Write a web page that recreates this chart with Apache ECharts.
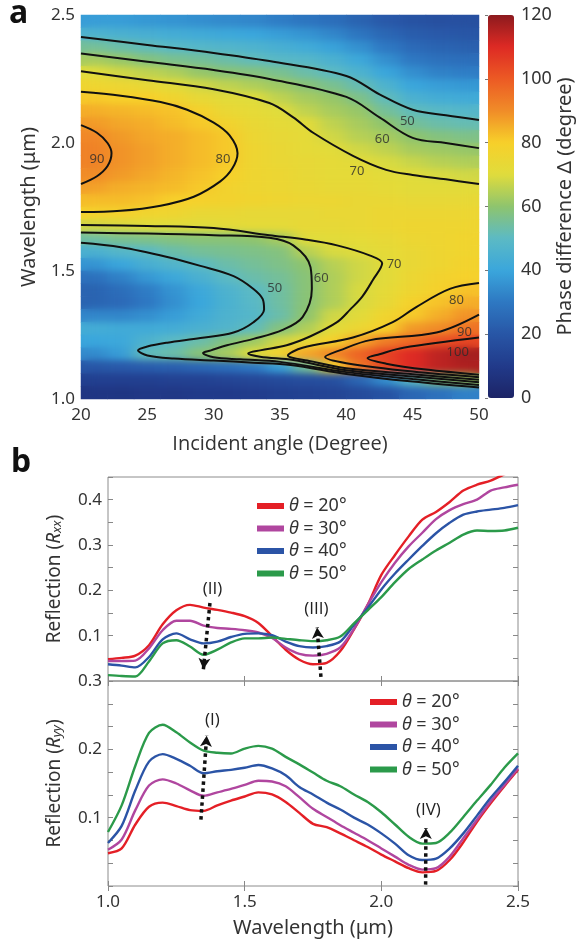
<!DOCTYPE html>
<html>
<head>
<meta charset="utf-8">
<script src="https://cdn.jsdelivr.net/npm/echarts/dist/echarts.min.js"></script>
<style>
  html, body { margin: 0; padding: 0; background: #fff; }
  #chart { width: 580px; height: 947px; }
</style>
</head>
<body>
<!-- soft shading filter for the phase map layer -->
<svg width="0" height="0" style="position:absolute;left:0;top:0">
  <defs>
    <filter id="soften" x="0" y="0" width="1" height="1" color-interpolation-filters="sRGB">
      <feGaussianBlur stdDeviation="8 3.5"/>
    </filter>
  </defs>
</svg>
<div id="chart"></div>
<script>
// ---------- Panel a: phase difference map ----------
// cell centres (incident angle, degrees) for the map columns
const angleCenters = [21, 23, 25, 27, 29, 31, 33, 35, 37, 39, 41, 43, 45, 47, 49];
// cell centres (wavelength, µm) for the map rows, top row first
const wavelengthCenters = [2.475, 2.425, 2.375, 2.325, 2.275, 2.225, 2.175, 2.125, 2.075, 2.025,
  1.975, 1.925, 1.875, 1.825, 1.775, 1.725, 1.675, 1.625, 1.575, 1.525,
  1.475, 1.425, 1.375, 1.325, 1.275, 1.225, 1.175, 1.125, 1.075, 1.025];
// phase difference (degree), one row per wavelength, top row first
const phaseRows = [
  [38, 38, 37, 36, 35, 34, 33, 31, 29, 27, 24, 21, 19, 18, 18],
  [46, 45, 44, 43, 42, 41, 40, 38, 36, 33, 29, 25, 22, 21, 20],
  [55, 53, 51, 49, 48, 47, 46, 44, 42, 39, 35, 30, 26, 24, 23],
  [63, 61, 58, 56, 55, 53, 51, 49, 48, 45, 41, 35, 30, 28, 27],
  [70, 68, 66, 64, 61, 59, 58, 56, 53, 50, 46, 40, 35, 32, 31],
  [76, 75, 73, 71, 68, 66, 64, 62, 59, 56, 52, 46, 40, 38, 37],
  [81, 80, 80, 77, 73, 71, 70, 66, 63, 61, 57, 51, 45, 43, 42],
  [85, 84, 83, 82, 79, 74, 72, 70, 66, 63, 61, 55, 51, 49, 48],
  [88, 86, 85, 83, 81, 78, 74, 72, 71, 66, 63, 60, 55, 53, 52],
  [91, 88, 86, 85, 83, 81, 75, 73, 72, 68, 65, 63, 60, 58, 57],
  [92, 89, 87, 85, 83, 81, 76, 74, 72, 71, 68, 66, 63, 62, 61],
  [92, 89, 87, 85, 83, 81, 76, 74, 73, 72, 71, 69, 67, 65, 64],
  [90, 88, 86, 84, 82, 80, 76, 75, 73, 72, 72, 71, 70, 69, 68],
  [87, 85, 84, 83, 81, 78, 76, 75, 74, 73, 73, 72, 71, 71, 71],
  [83, 83, 82, 80, 79, 78, 77, 76, 75, 75, 74, 74, 73, 73, 73],
  [79, 79, 77, 76, 74, 74, 73, 73, 73, 74, 74, 75, 75, 75, 75],
  [68, 69, 70, 70, 70, 71, 72, 72, 73, 73, 74, 75, 76, 76, 76],
  [54, 56, 57, 58, 59, 59, 60, 63, 70, 71, 72, 73, 75, 76, 77],
  [45, 48, 50, 53, 55, 56, 57, 58, 65, 69, 70, 72, 74, 76, 77],
  [36, 40, 44, 47, 50, 53, 55, 57, 60, 65, 68, 71, 74, 76, 78],
  [28, 32, 37, 41, 45, 50, 53, 55, 59, 64, 68, 71, 75, 78, 79],
  [24, 27, 31, 36, 41, 46, 50, 54, 59, 64, 69, 72, 76, 79, 82],
  [24, 26, 30, 35, 40, 45, 49, 54, 59, 64, 69, 73, 79, 82, 85],
  [33, 33, 35, 38, 42, 46, 48, 53, 60, 68, 71, 77, 81, 85, 89],
  [43, 42, 42, 43, 45, 47, 51, 58, 64, 71, 75, 80, 88, 90, 95],
  [40, 41, 46, 50, 53, 58, 62, 68, 73, 79, 86, 93, 97, 102, 104],
  [34, 38, 51, 53, 59, 63, 70, 78, 86, 91, 98, 105, 110, 114, 117],
  [20, 21, 22, 23, 25, 27, 30, 38, 55, 78, 94, 104, 110, 114, 116],
  [12, 12, 12, 13, 13, 14, 15, 16, 17, 18, 25, 35, 50, 58, 62],
  [8, 8, 9, 9, 10, 10, 11, 12, 13, 14, 16, 19, 25, 28, 32]
];

// contour lines, points as [angle, wavelength]
const contour50Upper = [[20, 2.414], [25, 2.383], [30, 2.352], [34.2, 2.32], [40, 2.262], [42.5, 2.19], [45, 2.13], [47.5, 2.108], [50, 2.09]];
const contour60Upper = [[20, 2.35], [25, 2.317], [30, 2.285], [34.2, 2.25], [40, 2.18], [42.5, 2.10], [45, 2.02], [47.5, 2.0], [50, 1.98]];
const contour70Upper = [[20, 2.28], [25, 2.245], [30, 2.21], [34.2, 2.156], [36, 2.10], [37.5, 2.04], [40.5, 1.95], [43, 1.895], [45, 1.875], [47.5, 1.858], [50, 1.84]];
const contour80Lobe = [[20, 2.20], [23, 2.185], [26, 2.16], [28, 2.13], [30, 2.08], [31.2, 2.03], [31.8, 1.96], [31.4, 1.90], [30.5, 1.85], [28.5, 1.79], [26, 1.755], [23, 1.735], [20, 1.73]];
const contour90Lobe = [[20, 2.07], [21.2, 2.04], [22, 2.0], [22.3, 1.96], [22, 1.91], [21.2, 1.87], [20, 1.84]];
const contour50Lower = [[20, 1.61], [23, 1.593], [26.5, 1.555], [29, 1.52], [31.5, 1.48], [33, 1.43], [33.7, 1.39], [33.8, 1.35], [33, 1.30], [31.5, 1.26], [29, 1.238], [26.5, 1.22], [25, 1.205], [24.3, 1.19], [25, 1.17], [27, 1.158], [30, 1.15], [33, 1.142], [35.8, 1.133], [40, 1.098], [45, 1.068], [50, 1.045]];
const contour60Lower = [[20, 1.65], [25, 1.646], [30, 1.64], [34.2, 1.63], [36, 1.60], [37.3, 1.515], [37.4, 1.43], [36.7, 1.32], [35.2, 1.27], [33, 1.235], [31, 1.21], [29.8, 1.19], [29.2, 1.18], [30, 1.163], [32, 1.155], [35, 1.145], [40, 1.105], [45, 1.078], [50, 1.055]];
const contour70Lower = [[20, 1.68], [25, 1.676], [30, 1.668], [34.2, 1.64], [37, 1.622], [39.3, 1.60], [41.8, 1.56], [42.7, 1.53], [42, 1.465], [41.2, 1.40], [40.3, 1.35], [39.3, 1.30], [37.3, 1.245], [35.5, 1.21], [33.5, 1.19], [32.6, 1.178], [33.5, 1.165], [36, 1.152], [40, 1.112], [45, 1.088], [50, 1.065]];
const contour80Lower = [[50, 1.453], [47.8, 1.43], [45.3, 1.36], [43.5, 1.30], [40.5, 1.24], [36.7, 1.20], [35.6, 1.17], [37.3, 1.148], [40, 1.12], [45, 1.097], [50, 1.075]];
const contour90Lower = [[50, 1.33], [46.8, 1.26], [41.8, 1.23], [39.5, 1.19], [38.4, 1.164], [40, 1.14], [45, 1.107], [50, 1.085]];
const contour100Lower = [[50, 1.24], [44.3, 1.20], [42.5, 1.175], [41.6, 1.16], [43, 1.138], [46, 1.115], [50, 1.095]];
const contourLines = [contour50Upper, contour60Upper, contour70Upper, contour80Lobe, contour90Lobe,
  contour50Lower, contour60Lower, contour70Lower, contour80Lower, contour90Lower, contour100Lower];
// contour level labels: [angle, wavelength, level]
const contourLabels = [[44.6, 2.086, 50], [42.7, 2.014, 60], [40.8, 1.888, 70], [21.2, 1.936, 90], [30.7, 1.936, 80],
  [34.6, 1.432, 50], [38.1, 1.471, 60], [43.6, 1.527, 70], [48.3, 1.384, 80], [48.9, 1.259, 90], [48.4, 1.181, 100]];

// colour scale for the phase difference, 0 → 120 degree
const phaseColors = ['#1d2466', '#213a8a', '#2856a6', '#2e78c2', '#3aa6dc', '#5cbac4', '#8ec46e',
  '#e0dc3c', '#f7d02a', '#f08c28', '#ec5a24', '#de2a24', '#8c1a1e'];

// ---------- Panel b: reflection spectra ----------
const wavelengths = [1.00, 1.05, 1.10, 1.15, 1.20, 1.25, 1.30, 1.35, 1.40, 1.45, 1.50, 1.55, 1.60, 1.65, 1.70,
  1.75, 1.80, 1.85, 1.90, 1.95, 2.00, 2.05, 2.10, 2.15, 2.20, 2.25, 2.30, 2.35, 2.40, 2.45, 2.50];
const angleNames = ['θ = 20°', 'θ = 30°', 'θ = 40°', 'θ = 50°'];
const lineColors = ['#e41f26', '#b0469f', '#2b54a6', '#2b9a4a'];

const rxx20 = [0.048, 0.051, 0.056, 0.079, 0.125, 0.156, 0.168, 0.162, 0.157, 0.151, 0.143, 0.128, 0.099, 0.069, 0.047,
  0.037, 0.040, 0.066, 0.114, 0.168, 0.234, 0.278, 0.319, 0.356, 0.373, 0.395, 0.420, 0.433, 0.442, 0.456, 0.466];
const rxx30 = [0.044, 0.044, 0.045, 0.072, 0.112, 0.133, 0.133, 0.122, 0.117, 0.115, 0.112, 0.107, 0.095, 0.074, 0.060,
  0.056, 0.060, 0.074, 0.115, 0.168, 0.218, 0.261, 0.297, 0.327, 0.357, 0.377, 0.390, 0.400, 0.420, 0.427, 0.433];
const rxx40 = [0.037, 0.034, 0.030, 0.053, 0.092, 0.105, 0.092, 0.083, 0.087, 0.097, 0.104, 0.105, 0.101, 0.087, 0.077,
  0.074, 0.077, 0.087, 0.124, 0.161, 0.202, 0.237, 0.268, 0.298, 0.326, 0.349, 0.367, 0.374, 0.378, 0.382, 0.388];
const rxx50 = [0.013, 0.011, 0.010, 0.043, 0.083, 0.090, 0.076, 0.058, 0.069, 0.085, 0.094, 0.094, 0.096, 0.093, 0.090,
  0.088, 0.090, 0.098, 0.127, 0.156, 0.185, 0.218, 0.247, 0.268, 0.288, 0.305, 0.323, 0.332, 0.331, 0.332, 0.338];

const ryy20 = [0.048, 0.055, 0.090, 0.116, 0.122, 0.117, 0.111, 0.110, 0.118, 0.125, 0.131, 0.137, 0.134, 0.123, 0.107,
  0.091, 0.086, 0.077, 0.067, 0.057, 0.046, 0.036, 0.026, 0.020, 0.022, 0.038, 0.064, 0.094, 0.121, 0.146, 0.170];
const ryy30 = [0.053, 0.068, 0.111, 0.147, 0.156, 0.150, 0.140, 0.132, 0.137, 0.142, 0.148, 0.154, 0.153, 0.146, 0.130,
  0.113, 0.101, 0.089, 0.078, 0.067, 0.055, 0.043, 0.031, 0.024, 0.026, 0.043, 0.070, 0.097, 0.124, 0.148, 0.172];
const ryy40 = [0.063, 0.088, 0.140, 0.182, 0.193, 0.186, 0.176, 0.165, 0.168, 0.170, 0.173, 0.177, 0.172, 0.162, 0.145,
  0.134, 0.122, 0.112, 0.100, 0.090, 0.077, 0.062, 0.045, 0.038, 0.040, 0.055, 0.077, 0.103, 0.129, 0.152, 0.176];
const ryy50 = [0.079, 0.118, 0.176, 0.224, 0.236, 0.225, 0.210, 0.198, 0.195, 0.194, 0.201, 0.205, 0.201, 0.189, 0.178,
  0.166, 0.154, 0.146, 0.134, 0.123, 0.108, 0.090, 0.072, 0.062, 0.063, 0.078, 0.101, 0.125, 0.148, 0.173, 0.194];

// dotted arrows: [start wavelength, start value, tip wavelength, tip value]
const arrowsRxx = [[1.373, 0.172, 1.349, 0.026], [1.779, 0.009, 1.765, 0.118]];
const arrowsRyy = [[1.340, 0.097, 1.361, 0.220], [2.162, 0.002, 2.163, 0.085]];
// arrow captions: [wavelength, value, text]
const notesRxx = [[1.382, 0.203, '(II)'], [1.762, 0.158, '(III)']];
const notesRyy = [[1.382, 0.243, '(I)'], [2.172, 0.111, '(IV)']];

const FONT = 'Noto Sans';
const PLAIN_I_FONT = 'Open Sans';   // plain capital I for Roman numerals and "Incident"

// heat map cells: [column, row from bottom, value]
const heatData = [];
phaseRows.forEach((row, r) => {
  row.forEach((v, c) => heatData.push([c, phaseRows.length - 1 - r, v]));
});
const wavelengthCats = wavelengthCenters.slice().reverse().map(String);

function pairUp(xs, ys) { return xs.map((x, i) => [x, ys[i]]); }

// the map is drawn twice: a crisp base layer and a softened layer on top of it
function mapSeries(layer) {
  return { type: 'heatmap', xAxisIndex: 0, yAxisIndex: 0, data: heatData, silent: true, progressive: 0,
    zlevel: layer, itemStyle: { borderWidth: 0 }, emphasis: { disabled: true } };
}

const contourSeries = contourLines.map(pts => ({
  type: 'line', xAxisIndex: 1, yAxisIndex: 1, data: pts, smooth: 0.35,
  symbol: 'none', silent: true, z: 5, clip: true,
  lineStyle: { color: '#111', width: 2 }
}));

function spectrumSeries(values, idx, axisIdx) {
  return {
    name: angleNames[idx], type: 'line', xAxisIndex: axisIdx, yAxisIndex: axisIdx,
    data: pairUp(wavelengths, values), smooth: 0.3, symbol: 'none', clip: true,
    lineStyle: { color: lineColors[idx], width: 2.4 }, itemStyle: { color: lineColors[idx] },
    silent: true, z: 3
  };
}

// dotted arrow markers with their captions
function noteSeries(notes, arrows, axisIdx) {
  return {
    type: 'line', xAxisIndex: axisIdx, yAxisIndex: axisIdx, data: [], silent: true, z: 6,
    markPoint: {
      silent: true, animation: false, symbol: 'circle', symbolSize: 0,
      itemStyle: { color: 'rgba(0,0,0,0)' },
      label: { show: true, position: 'inside', formatter: p => p.name, fontSize: 17, color: '#222',
        fontFamily: PLAIN_I_FONT, fontWeight: 'normal', fontStyle: 'normal' },
      data: notes.map(n => ({ name: n[2], coord: [n[0], n[1]] }))
    },
    markLine: {
      silent: true, animation: false, symbol: ['none', 'arrow'], symbolSize: [9, 11],
      label: { show: false },
      lineStyle: { color: '#111', width: 3.5, type: [3.5, 3.5] },
      data: arrows.map(a => [{ coord: [a[0], a[1]] }, { coord: [a[2], a[3]] }])
    }
  };
}

const frameTick = { show: true, inside: true, length: 5, lineStyle: { color: '#888', width: 1 } };
const legendBase = {
  data: angleNames, orient: 'vertical', icon: 'rect', itemWidth: 27, itemHeight: 6, itemGap: 2.5,
  selectedMode: false,
  formatter: n => '{it|θ}' + n.slice(1),
  textStyle: { fontSize: 18, color: '#333', lineHeight: 20,
    rich: { it: { fontStyle: 'italic', fontSize: 18 } } }
};

const option = {
  animation: false,
  textStyle: { fontFamily: FONT },
  graphic: [
    { type: 'text', left: 9, top: -2, style: { text: 'a', font: 'bold 32px ' + FONT, fill: '#111' } },
    { type: 'text', left: 11, top: 447, style: { text: 'b', font: 'bold 32px ' + FONT, fill: '#111' } }
  ],
  grid: [
    { left: 81, top: 15, width: 398, height: 384 },
    { left: 81, top: 15, width: 398, height: 384 },
    { left: 488, top: 15, width: 26, height: 383 },
    { left: 108, top: 477, width: 410, height: 204, show: true, borderColor: '#8c8c8c', borderWidth: 1 },
    { left: 108, top: 681, width: 410, height: 205, show: true, borderColor: '#8c8c8c', borderWidth: 1 }
  ],
  visualMap: {
    type: 'continuous', seriesIndex: [0, 1], min: 0, max: 120, calculable: false,
    orient: 'vertical', left: 488, top: 15, itemWidth: 26, itemHeight: 383, padding: 0,
    inRange: { color: phaseColors }, hoverLink: false
  },
  xAxis: [
    { gridIndex: 0, type: 'category', data: angleCenters.map(String), show: false },
    { gridIndex: 1, type: 'value', min: 20, max: 50, interval: 5,
      axisLine: { show: false }, axisTick: { show: false }, splitLine: { show: false },
      axisLabel: { fontSize: 17, color: '#333', margin: 8 },
      name: 'Incident angle (Degree)', nameLocation: 'middle', nameGap: 35,
      nameTextStyle: { fontSize: 20, color: '#333', fontFamily: PLAIN_I_FONT } },
    { gridIndex: 2, type: 'value', show: false },
    { gridIndex: 3, type: 'value', min: 1, max: 2.5, interval: 0.5, position: 'bottom',
      axisLine: { show: false }, axisTick: frameTick, axisLabel: { show: false }, splitLine: { show: false } },
    { gridIndex: 3, type: 'value', min: 1, max: 2.5, interval: 0.5, position: 'top',
      axisLine: { show: false }, axisTick: frameTick, axisLabel: { show: false }, splitLine: { show: false } },
    { gridIndex: 4, type: 'value', min: 1, max: 2.5, interval: 0.5, position: 'bottom',
      axisLine: { show: false }, axisTick: frameTick, splitLine: { show: false },
      axisLabel: { fontSize: 17, color: '#333', margin: 8, formatter: v => v.toFixed(1) },
      name: 'Wavelength (μm)', nameLocation: 'middle', nameGap: 32,
      nameTextStyle: { fontSize: 20, color: '#333' } },
    { gridIndex: 4, type: 'value', min: 1, max: 2.5, interval: 0.5, position: 'top',
      axisLine: { show: false }, axisTick: frameTick, axisLabel: { show: false }, splitLine: { show: false } }
  ],
  yAxis: [
    { gridIndex: 0, type: 'category', data: wavelengthCats, show: false },
    { gridIndex: 1, type: 'value', min: 1.0, max: 2.5, interval: 0.5,
      axisLine: { show: false }, axisTick: { show: false }, splitLine: { show: false },
      axisLabel: { fontSize: 17, color: '#333', margin: 6, formatter: v => v.toFixed(1) },
      name: 'Wavelength (μm)', nameLocation: 'middle', nameRotate: 90, nameGap: 42,
      nameTextStyle: { fontSize: 20, color: '#333' } },
    { gridIndex: 2, type: 'value', min: 0, max: 120, interval: 20, position: 'right',
      axisLine: { show: false }, splitLine: { show: false },
      axisTick: { show: true, inside: true, length: 3, lineStyle: { color: '#777' } },
      axisLabel: { fontSize: 18, color: '#333', margin: 7 },
      name: 'Phase difference Δ (degree)', nameLocation: 'middle', nameRotate: 90, nameGap: 38,
      nameTextStyle: { fontSize: 20, color: '#333' } },
    { gridIndex: 3, type: 'value', min: 0, max: 0.45, interval: 0.1, position: 'left',
      axisLine: { show: false }, splitLine: { show: false }, axisTick: frameTick,
      minorTick: { show: true, splitNumber: 2, length: 5, lineStyle: { color: '#888' } },
      axisLabel: { fontSize: 17, color: '#333', margin: 6, showMinLabel: false, showMaxLabel: false, formatter: v => v.toFixed(1) },
      name: 'Reflection ({it|R}{sub|xx})', nameLocation: 'middle', nameRotate: 90, nameGap: 44,
      nameTextStyle: { fontSize: 19, color: '#333',
        rich: { it: { fontStyle: 'italic', fontSize: 19 }, sub: { fontStyle: 'italic', fontSize: 13, verticalAlign: 'bottom', padding: [6, 0, 0, 0] } } } },
    { gridIndex: 3, type: 'value', min: 0, max: 0.45, interval: 0.1, position: 'right',
      axisLine: { show: false }, splitLine: { show: false }, axisTick: frameTick, axisLabel: { show: false },
      minorTick: { show: true, splitNumber: 2, length: 5, lineStyle: { color: '#888' } } },
    { gridIndex: 4, type: 'value', min: 0, max: 0.3, interval: 0.1, position: 'left',
      axisLine: { show: false }, splitLine: { show: false }, axisTick: frameTick,
      minorTick: { show: true, splitNumber: 3, length: 5, lineStyle: { color: '#888' } },
      axisLabel: { fontSize: 17, color: '#333', margin: 6, showMinLabel: false, formatter: v => v.toFixed(1) },
      name: 'Reflection ({it|R}{sub|yy})', nameLocation: 'middle', nameRotate: 90, nameGap: 44,
      nameTextStyle: { fontSize: 19, color: '#333',
        rich: { it: { fontStyle: 'italic', fontSize: 19 }, sub: { fontStyle: 'italic', fontSize: 13, verticalAlign: 'bottom', padding: [6, 0, 0, 0] } } } },
    { gridIndex: 4, type: 'value', min: 0, max: 0.3, interval: 0.1, position: 'right',
      axisLine: { show: false }, splitLine: { show: false }, axisTick: frameTick, axisLabel: { show: false },
      minorTick: { show: true, splitNumber: 3, length: 5, lineStyle: { color: '#888' } } }
  ],
  legend: [
    Object.assign({}, legendBase, { left: 252, top: 491 }),
    Object.assign({}, legendBase, { left: 365, top: 687 })
  ],
  series: [mapSeries(-2), mapSeries(-1)].concat(contourSeries, [
    { type: 'scatter', xAxisIndex: 1, yAxisIndex: 1, data: contourLabels, symbolSize: 1, silent: true, z: 6,
      itemStyle: { color: 'rgba(0,0,0,0)' },
      label: { show: true, position: 'inside', formatter: p => String(p.data[2]), fontSize: 13, color: '#2a2a2a' } },
    spectrumSeries(rxx20, 0, 3), spectrumSeries(rxx30, 1, 3), spectrumSeries(rxx40, 2, 3), spectrumSeries(rxx50, 3, 3),
    spectrumSeries(ryy20, 0, 5), spectrumSeries(ryy30, 1, 5), spectrumSeries(ryy40, 2, 5), spectrumSeries(ryy50, 3, 5),
    noteSeries(notesRxx, arrowsRxx, 3),
    noteSeries(notesRyy, arrowsRyy, 5)
  ])
};

const chart = echarts.init(document.getElementById('chart'), null, { renderer: 'canvas' });
chart.setOption(option);

// soften the upper map layer and keep it inside the plot area
function softenMapLayer() {
  const layer = document.querySelector('#chart canvas[data-zr-dom-id="zr_-1"]');
  if (layer) {
    layer.style.filter = 'url(#soften)';
    layer.style.clipPath = 'inset(15px 101px 548px 81px)';
  }
}
softenMapLayer();
chart.on('finished', softenMapLayer);
</script>
</body>
</html>
